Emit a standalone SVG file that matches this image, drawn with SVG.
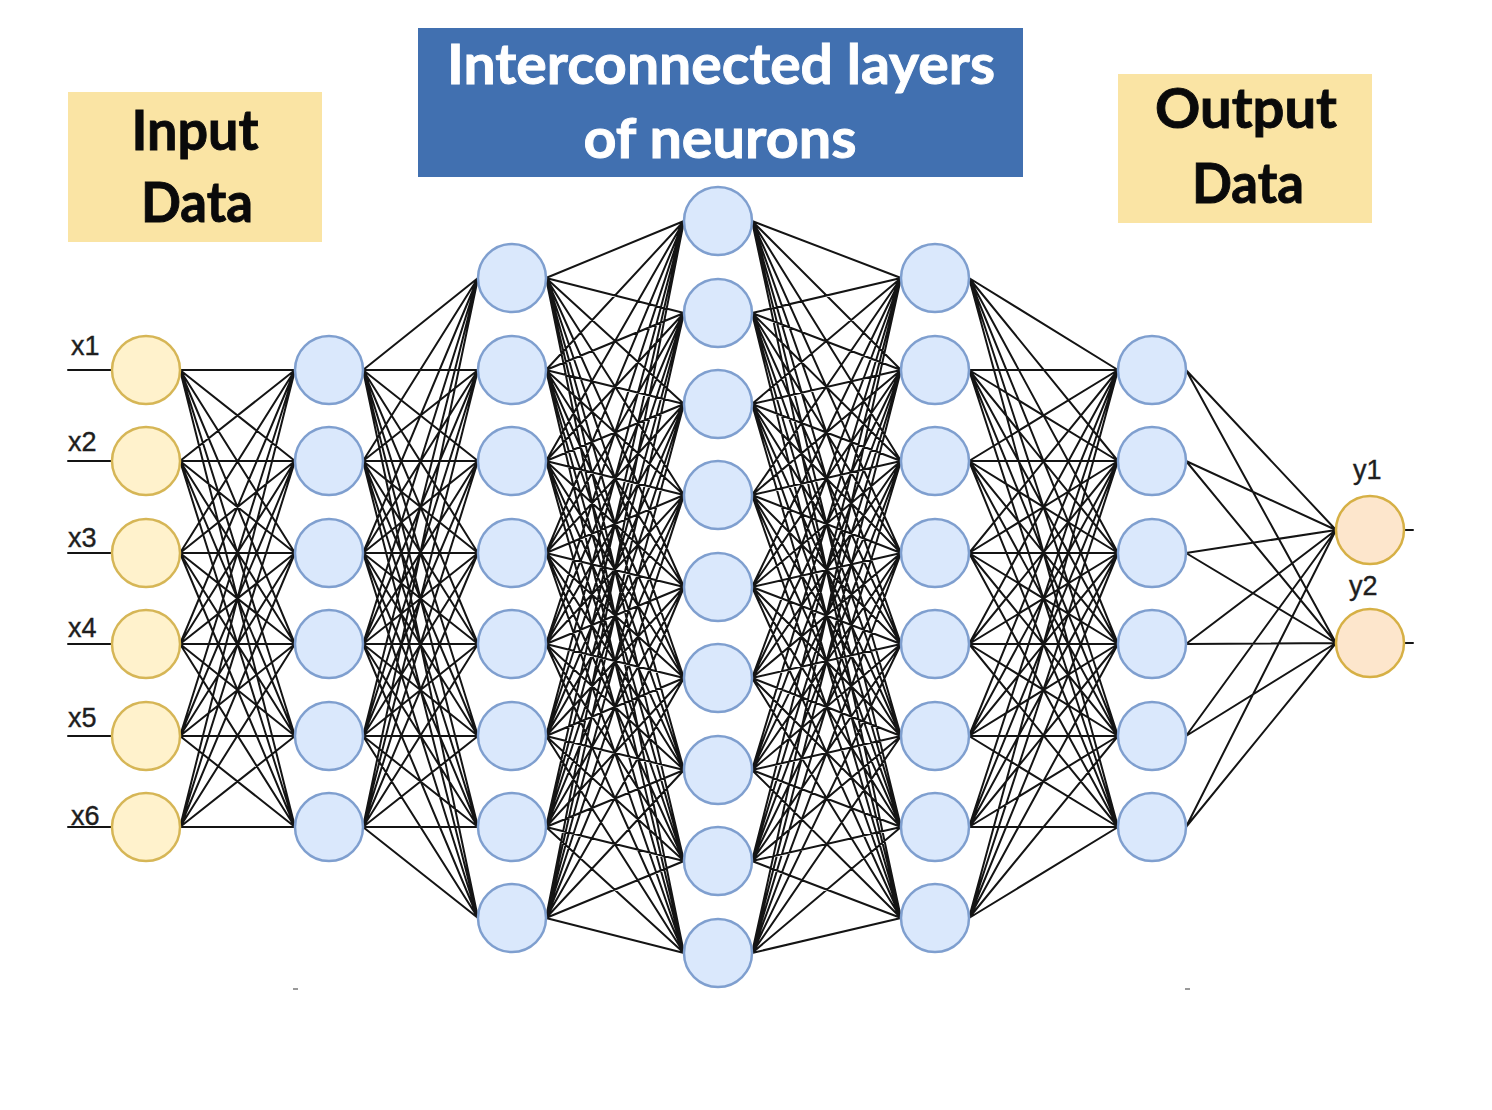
<svg xmlns="http://www.w3.org/2000/svg" width="1492" height="1110" viewBox="0 0 1492 1110">
<style>
.edge{fill:none;stroke:#141414;stroke-width:2;stroke-linejoin:round;stroke-linecap:round}
.in{fill:#fff2cc;stroke:#d6b656;stroke-width:2.5}
.hid{fill:#dae8fc;stroke:#7f9fcf;stroke-width:2.5}
.out{fill:#fde6cc;stroke:#d6b045;stroke-width:2.5}
.lbl{font-family:"Liberation Sans",Arial,sans-serif;font-size:27px;fill:#1e1e1e;stroke:#1e1e1e;stroke-width:0.4}
.hdr{font-family:Lato,"Open Sans",sans-serif;font-weight:700;font-size:56px;text-anchor:middle;stroke-width:0.9}
</style>
<rect width="1492" height="1110" fill="#ffffff"/>
<g id="header-input">
<rect x="68" y="92" width="254" height="150" fill="#fae4a4"/>
<text class="hdr" x="195" y="150" fill="#0a0a0a" stroke="#0a0a0a" textLength="127" lengthAdjust="spacingAndGlyphs">Input</text>
<text class="hdr" x="197" y="222" fill="#0a0a0a" stroke="#0a0a0a" textLength="112" lengthAdjust="spacingAndGlyphs">Data</text>
</g>
<g id="header-hidden">
<rect x="418" y="28" width="605" height="149" fill="#4170b0"/>
<text class="hdr" x="721" y="84" fill="#ffffff" stroke="#ffffff" textLength="548" lengthAdjust="spacingAndGlyphs">Interconnected layers</text>
<text class="hdr" x="720" y="158" fill="#ffffff" stroke="#ffffff" textLength="273" lengthAdjust="spacingAndGlyphs">of neurons</text>
</g>
<g id="header-output">
<rect x="1118" y="74" width="254" height="149" fill="#fae4a4"/>
<text class="hdr" x="1246" y="128" fill="#0a0a0a" stroke="#0a0a0a" textLength="182" lengthAdjust="spacingAndGlyphs">Output</text>
<text class="hdr" x="1248" y="203" fill="#0a0a0a" stroke="#0a0a0a" textLength="112" lengthAdjust="spacingAndGlyphs">Data</text>
</g>
<g id="connectors">
<path class="edge" d="M68 370H112M68 461H112M68 553H112M68 644H112M68 736H112M68 827H112M1405 530H1413M1405 643H1413"/>
<path class="edge" d="M295 370L180 370L295 461M295 553L180 370L295 644M295 736L180 370L295 827
M295 370L180 461L295 461M295 553L180 461L295 644M295 736L180 461L295 827
M295 370L180 553L295 461M295 553L180 553L295 644M295 736L180 553L295 827
M295 370L180 644L295 461M295 553L180 644L295 644M295 736L180 644L295 827
M295 370L180 736L295 461M295 553L180 736L295 644M295 736L180 736L295 827
M295 370L180 827L295 461M295 553L180 827L295 644M295 736L180 827L295 827"/>
<path class="edge" d="M478 278L363 370L478 370M478 461L363 370L478 553M478 644L363 370L478 736M478 827L363 370L478 918
M478 278L363 461L478 370M478 461L363 461L478 553M478 644L363 461L478 736M478 827L363 461L478 918
M478 278L363 553L478 370M478 461L363 553L478 553M478 644L363 553L478 736M478 827L363 553L478 918
M478 278L363 644L478 370M478 461L363 644L478 553M478 644L363 644L478 736M478 827L363 644L478 918
M478 278L363 736L478 370M478 461L363 736L478 553M478 644L363 736L478 736M478 827L363 736L478 918
M478 278L363 827L478 370M478 461L363 827L478 553M478 644L363 827L478 736M478 827L363 827L478 918"/>
<path class="edge" d="M684 221L546 278L684 313M684 404L546 278L684 495M684 587L546 278L684 678M684 770L546 278L684 861M684 953L546 278
M684 221L546 370L684 313M684 404L546 370L684 495M684 587L546 370L684 678M684 770L546 370L684 861M684 953L546 370
M684 221L546 461L684 313M684 404L546 461L684 495M684 587L546 461L684 678M684 770L546 461L684 861M684 953L546 461
M684 221L546 553L684 313M684 404L546 553L684 495M684 587L546 553L684 678M684 770L546 553L684 861M684 953L546 553
M684 221L546 644L684 313M684 404L546 644L684 495M684 587L546 644L684 678M684 770L546 644L684 861M684 953L546 644
M684 221L546 736L684 313M684 404L546 736L684 495M684 587L546 736L684 678M684 770L546 736L684 861M684 953L546 736
M684 221L546 827L684 313M684 404L546 827L684 495M684 587L546 827L684 678M684 770L546 827L684 861M684 953L546 827
M684 221L546 918L684 313M684 404L546 918L684 495M684 587L546 918L684 678M684 770L546 918L684 861M684 953L546 918"/>
<path class="edge" d="M901 278L752 221L901 370M901 461L752 221L901 553M901 644L752 221L901 736M901 827L752 221L901 918
M901 278L752 313L901 370M901 461L752 313L901 553M901 644L752 313L901 736M901 827L752 313L901 918
M901 278L752 404L901 370M901 461L752 404L901 553M901 644L752 404L901 736M901 827L752 404L901 918
M901 278L752 495L901 370M901 461L752 495L901 553M901 644L752 495L901 736M901 827L752 495L901 918
M901 278L752 587L901 370M901 461L752 587L901 553M901 644L752 587L901 736M901 827L752 587L901 918
M901 278L752 678L901 370M901 461L752 678L901 553M901 644L752 678L901 736M901 827L752 678L901 918
M901 278L752 770L901 370M901 461L752 770L901 553M901 644L752 770L901 736M901 827L752 770L901 918
M901 278L752 861L901 370M901 461L752 861L901 553M901 644L752 861L901 736M901 827L752 861L901 918
M901 278L752 953L901 370M901 461L752 953L901 553M901 644L752 953L901 736M901 827L752 953L901 918"/>
<path class="edge" d="M1118 370L969 278L1118 461M1118 553L969 278L1118 644M1118 736L969 278L1118 827
M1118 370L969 370L1118 461M1118 553L969 370L1118 644M1118 736L969 370L1118 827
M1118 370L969 461L1118 461M1118 553L969 461L1118 644M1118 736L969 461L1118 827
M1118 370L969 553L1118 461M1118 553L969 553L1118 644M1118 736L969 553L1118 827
M1118 370L969 644L1118 461M1118 553L969 644L1118 644M1118 736L969 644L1118 827
M1118 370L969 736L1118 461M1118 553L969 736L1118 644M1118 736L969 736L1118 827
M1118 370L969 827L1118 461M1118 553L969 827L1118 644M1118 736L969 827L1118 827
M1118 370L969 918L1118 461M1118 553L969 918L1118 644M1118 736L969 918L1118 827"/>
<path class="edge" d="M1336 530L1186 370L1336 643M1336 530L1186 461L1336 643M1336 530L1186 553L1336 643M1336 530L1186 644L1336 643M1336 530L1186 736L1336 643M1336 530L1186 827L1336 643"/>
</g>
<g id="input-layer">
<g id="x1"><circle class="in" cx="146" cy="370" r="34"/><text class="lbl" x="71" y="355">x1</text></g>
<g id="x2"><circle class="in" cx="146" cy="461" r="34"/><text class="lbl" x="68" y="451">x2</text></g>
<g id="x3"><circle class="in" cx="146" cy="553" r="34"/><text class="lbl" x="68" y="547">x3</text></g>
<g id="x4"><circle class="in" cx="146" cy="644" r="34"/><text class="lbl" x="68" y="637">x4</text></g>
<g id="x5"><circle class="in" cx="146" cy="736" r="34"/><text class="lbl" x="68" y="727">x5</text></g>
<g id="x6"><circle class="in" cx="146" cy="827" r="34"/><text class="lbl" x="71" y="825">x6</text></g>
</g>
<g id="hidden-1">
<circle id="h1-1" class="hid" cx="329" cy="370" r="34"/>
<circle id="h1-2" class="hid" cx="329" cy="461" r="34"/>
<circle id="h1-3" class="hid" cx="329" cy="553" r="34"/>
<circle id="h1-4" class="hid" cx="329" cy="644" r="34"/>
<circle id="h1-5" class="hid" cx="329" cy="736" r="34"/>
<circle id="h1-6" class="hid" cx="329" cy="827" r="34"/>
</g>
<g id="hidden-2">
<circle id="h2-1" class="hid" cx="512" cy="278" r="34"/>
<circle id="h2-2" class="hid" cx="512" cy="370" r="34"/>
<circle id="h2-3" class="hid" cx="512" cy="461" r="34"/>
<circle id="h2-4" class="hid" cx="512" cy="553" r="34"/>
<circle id="h2-5" class="hid" cx="512" cy="644" r="34"/>
<circle id="h2-6" class="hid" cx="512" cy="736" r="34"/>
<circle id="h2-7" class="hid" cx="512" cy="827" r="34"/>
<circle id="h2-8" class="hid" cx="512" cy="918" r="34"/>
</g>
<g id="hidden-3">
<circle id="h3-1" class="hid" cx="718" cy="221" r="34"/>
<circle id="h3-2" class="hid" cx="718" cy="313" r="34"/>
<circle id="h3-3" class="hid" cx="718" cy="404" r="34"/>
<circle id="h3-4" class="hid" cx="718" cy="495" r="34"/>
<circle id="h3-5" class="hid" cx="718" cy="587" r="34"/>
<circle id="h3-6" class="hid" cx="718" cy="678" r="34"/>
<circle id="h3-7" class="hid" cx="718" cy="770" r="34"/>
<circle id="h3-8" class="hid" cx="718" cy="861" r="34"/>
<circle id="h3-9" class="hid" cx="718" cy="953" r="34"/>
</g>
<g id="hidden-4">
<circle id="h4-1" class="hid" cx="935" cy="278" r="34"/>
<circle id="h4-2" class="hid" cx="935" cy="370" r="34"/>
<circle id="h4-3" class="hid" cx="935" cy="461" r="34"/>
<circle id="h4-4" class="hid" cx="935" cy="553" r="34"/>
<circle id="h4-5" class="hid" cx="935" cy="644" r="34"/>
<circle id="h4-6" class="hid" cx="935" cy="736" r="34"/>
<circle id="h4-7" class="hid" cx="935" cy="827" r="34"/>
<circle id="h4-8" class="hid" cx="935" cy="918" r="34"/>
</g>
<g id="hidden-5">
<circle id="h5-1" class="hid" cx="1152" cy="370" r="34"/>
<circle id="h5-2" class="hid" cx="1152" cy="461" r="34"/>
<circle id="h5-3" class="hid" cx="1152" cy="553" r="34"/>
<circle id="h5-4" class="hid" cx="1152" cy="644" r="34"/>
<circle id="h5-5" class="hid" cx="1152" cy="736" r="34"/>
<circle id="h5-6" class="hid" cx="1152" cy="827" r="34"/>
</g>
<g id="output-layer">
<g id="y1"><circle class="out" cx="1370" cy="530" r="34"/><text class="lbl" x="1353" y="479">y1</text></g>
<g id="y2"><circle class="out" cx="1370" cy="643" r="34"/><text class="lbl" x="1349" y="595">y2</text></g>
</g>
<rect x="293" y="988" width="5" height="2" fill="#9a9a9a"/>
<rect x="1185" y="988" width="5" height="2" fill="#9a9a9a"/>
</svg>
